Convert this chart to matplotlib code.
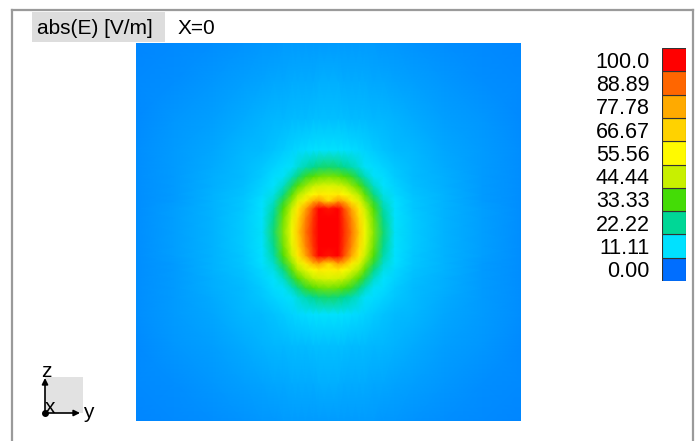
#abs(E) field map in the X=0 plane, colour legend on the right
import numpy as np
import matplotlib
matplotlib.use('Agg')
import matplotlib.pyplot as plt
from matplotlib.colors import LinearSegmentedColormap, Normalize
from matplotlib.patches import Rectangle

plt.rcParams['font.family'] = ['Liberation Sans', 'DejaVu Sans']

#Legend levels and colours
#---------------------------------
levels = [0.00, 11.11, 22.22, 33.33, 44.44, 55.56, 66.67, 77.78, 88.89, 100.0]
level_labels = ['0.00', '11.11', '22.22', '33.33', '44.44', '55.56', '66.67', '77.78', '88.89', '100.0']
level_colors = ['#006eff', '#00e1ff', '#00d796', '#44dc06', '#c8f000',
                '#fffa00', '#ffd200', '#ffaa00', '#ff6600', '#ff0000']
#---------------------------------

#Field samples (one quadrant), |E| in V/m
#rows: vertical position z (0 = centre, 1 = map edge), cols: horizontal y
#---------------------------------
y_nodes = [0, 0.05, 0.08, 0.12, 0.16, 0.19, 0.235, 0.285, 0.345, 0.44, 0.6, 0.8, 1.0]
z_nodes = [0, 0.075, 0.125, 0.165, 0.2, 0.245, 0.295, 0.345, 0.435, 0.6, 0.8, 1.0]
field_q = [
    [130, 115, 95, 86, 68, 53, 39, 25, 12.0, 9.1, 7.0, 4.8, 3.5],
    [125, 112, 94, 83, 64, 50, 37, 23, 11.7, 9.0, 6.9, 4.7, 3.5],
    [98, 104, 92, 78, 60, 45, 34, 20, 11.3, 8.8, 6.8, 4.7, 3.45],
    [65, 80, 75, 60, 49, 40, 29, 16.7, 11.0, 8.6, 6.7, 4.6, 3.4],
    [58, 60, 55.5, 49.6, 42.5, 35.5, 23.6, 14.0, 10.5, 8.3, 6.65, 4.6, 3.4],
    [48.5, 46.8, 44.3, 40, 34.7, 27, 17, 11.6, 9.8, 8.0, 6.5, 4.5, 3.4],
    [37.6, 36.4, 34.6, 30.5, 24.1, 18.3, 12.0, 10.7, 9.3, 7.8, 6.4, 4.4, 3.35],
    [25.7, 24.4, 22.6, 19.4, 15.6, 12.0, 10.9, 9.8, 8.7, 7.5, 6.2, 4.4, 3.3],
    [11.5, 11.4, 11.2, 10.8, 10.3, 9.8, 9.1, 8.4, 7.8, 7.1, 5.8, 4.3, 3.2],
    [8.0, 8.0, 7.9, 7.8, 7.7, 7.6, 7.4, 7.1, 6.8, 6.2, 5.0, 4.0, 3.1],
    [6.3, 6.3, 6.2, 6.2, 6.1, 6.0, 5.8, 5.6, 5.3, 4.8, 4.1, 3.3, 2.8],
    [4.5, 4.5, 4.5, 4.4, 4.4, 4.3, 4.3, 4.2, 4.0, 3.8, 3.4, 3.0, 2.5],
]
#---------------------------------

#Mirror the quadrant to the full plane
q = np.array(field_q, dtype=float)
half = np.hstack([q[:, :0:-1], q])
field = np.vstack([half[:0:-1, :], half])
yn = np.array(y_nodes); zn = np.array(z_nodes)
y_full = np.concatenate([-yn[:0:-1], yn])
z_full = np.concatenate([-zn[:0:-1], zn])
Y, Z = np.meshgrid(y_full, z_full)

#Colour map for the field (continuous through the legend colours)
cmap_field = LinearSegmentedColormap.from_list(
    'field', list(zip(np.array(levels) / 100.0, level_colors)))
cmap_field.set_over('#ff0000')
cmap_field.set_under('#006eff')

#Figure (700x441 px)
#--------------------------------
W, H = 700, 441
fig = plt.figure(figsize=(W / 100, H / 100), dpi=100)
fig.patch.set_facecolor('white')

#Field map
ax = fig.add_axes([136 / W, 1 - 421 / H, 385 / W, 378 / H])
ax.pcolormesh(Y, Z, field, shading='gouraud', cmap=cmap_field,
              norm=Normalize(vmin=0, vmax=100))
ax.set_xlim(-1, 1); ax.set_ylim(-1, 1)
ax.axis('off')

#Legend bar
cax = fig.add_axes([662 / W, 1 - 281 / H, 24 / W, 233 / H])
bounds = np.arange(len(levels) + 1)
for i, c in enumerate(level_colors):
    cax.add_patch(Rectangle((0, bounds[i]), 1, 1, facecolor=c,
                            edgecolor='#333333', linewidth=0.8))
cax.set_xlim(0, 1); cax.set_ylim(0, len(levels))
cax.set_xticks([])
cax.set_yticks(bounds[:-1] + 0.5)
cax.set_yticklabels(level_labels, fontsize=15.5)
cax.tick_params(axis='y', length=0, pad=9)
for s in cax.spines.values():
    s.set_visible(False)

#Overlay in pixel coordinates: frame, label, axis triad
ov = fig.add_axes([0, 0, 1, 1], zorder=5)
ov.set_xlim(0, W); ov.set_ylim(H, 0)
ov.axis('off')
ov.patch.set_alpha(0)

frame_c = '#9a9a9a'
ov.plot([12, 12], [10, H + 2], color=frame_c, lw=1.6)
ov.plot([12, 693], [10, 10], color=frame_c, lw=1.6)
ov.plot([693, 693], [10, H + 2], color=frame_c, lw=1.6)

ov.add_patch(Rectangle((32, 12), 133, 30, facecolor='#dddddd', edgecolor='none'))
ov.text(37, 28, 'abs(E) [V/m]', fontsize=15, va='center', ha='left')
ov.text(178, 28, 'X=0', fontsize=15, va='center', ha='left')

#Axis triad
ov.add_patch(Rectangle((45, 377), 38, 36, facecolor='#e2e2e2', edgecolor='none'))
ov.annotate('', xy=(45, 378), xytext=(45, 413),
            arrowprops=dict(arrowstyle='-|>', color='black', lw=1.2,
                            mutation_scale=9, shrinkA=0, shrinkB=0))
ov.annotate('', xy=(80, 413), xytext=(45, 413),
            arrowprops=dict(arrowstyle='-|>', color='black', lw=1.2,
                            mutation_scale=9, shrinkA=0, shrinkB=0))
ov.plot(45, 413, 'o', color='black', ms=4)
ov.text(41, 377, 'z', fontsize=15, va='baseline', ha='left')
ov.text(45, 413, 'x', fontsize=15, va='baseline', ha='left')
ov.text(83, 418, 'y', fontsize=15, va='baseline', ha='left')

fig.savefig('out.png', dpi=100)
#--------------------------------
